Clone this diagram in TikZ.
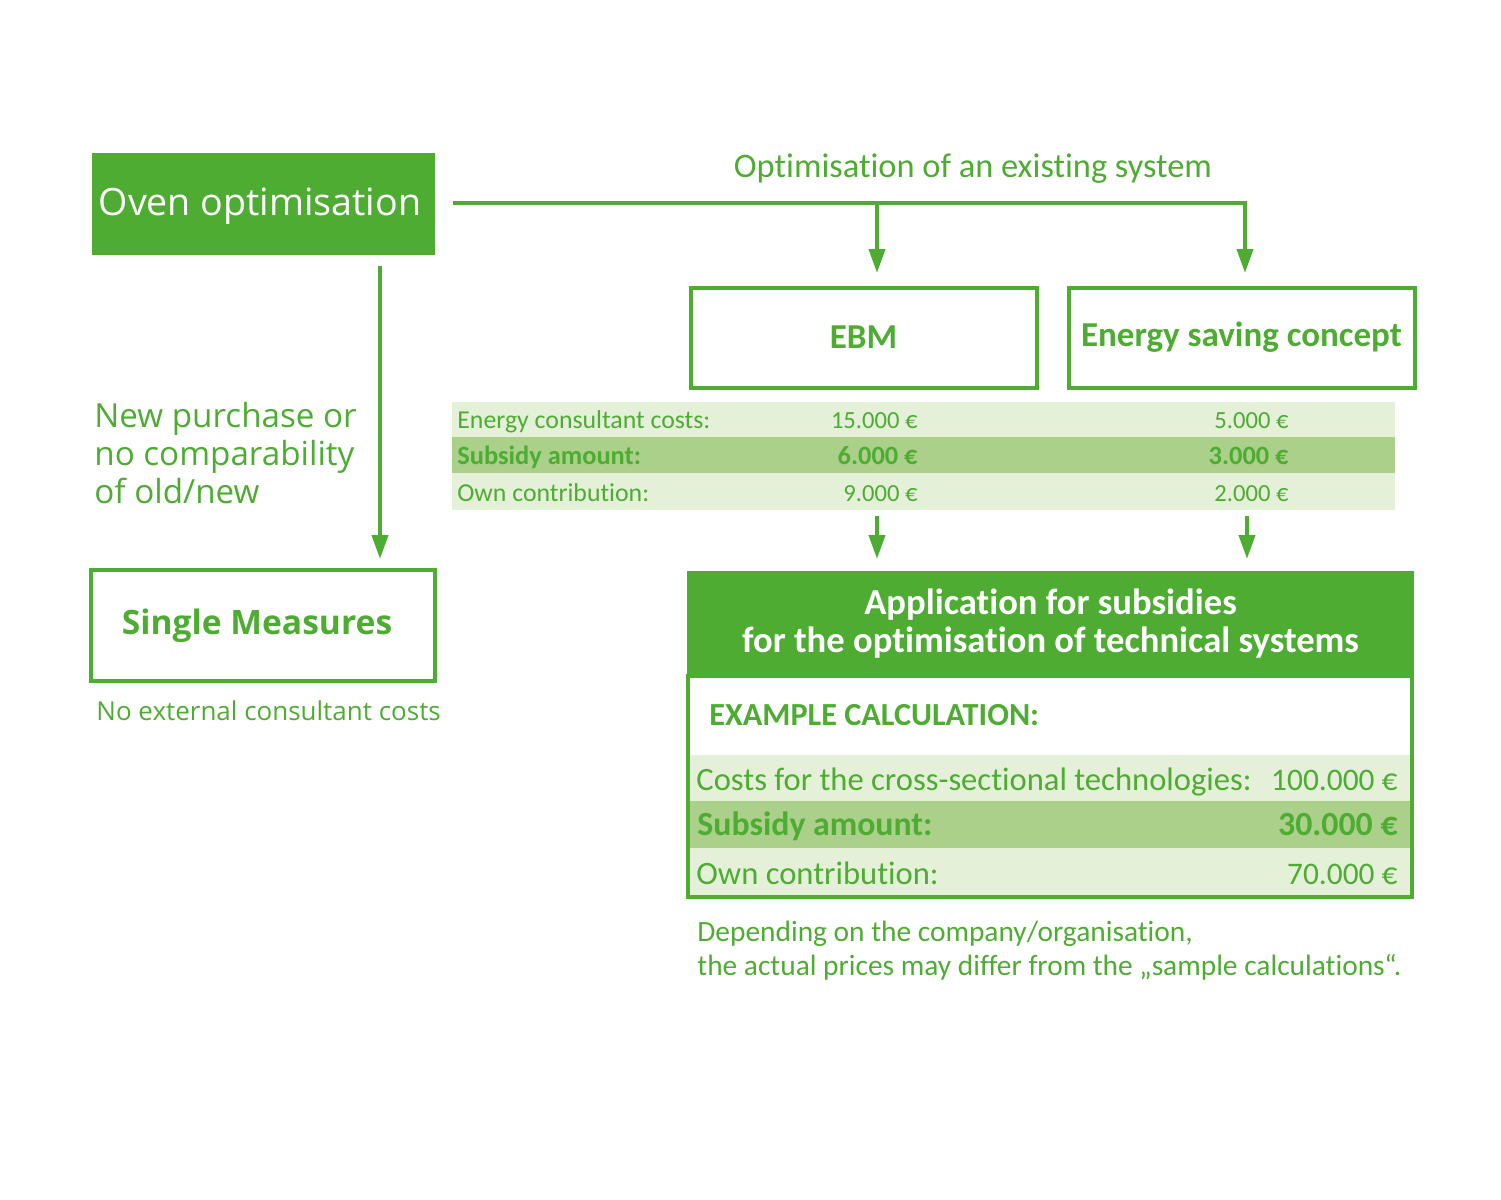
\documentclass[tikz,border=0pt]{standalone}
\usepackage{fontspec}
\setmainfont{Carlito}[Ligatures=NoCommon]
\newfontfamily\opensans{Open Sans}
\usetikzlibrary{arrows.meta}
\definecolor{cus-green}{RGB}{78, 172, 51}
\definecolor{cus-green1}{RGB}{170, 208, 138}
\definecolor{cus-green2}{RGB}{228, 240, 216}

\begin{document}
\begin{tikzpicture}[x=0.5pt,y=-0.5pt,
  >={Triangle[width=8pt,length=12pt]},
  arr/.style={draw=cus-green,line width=2pt,->},
  box/.style={draw=cus-green,line width=2pt,rectangle,inner sep=0pt,
    minimum width=173pt,minimum height=50pt,text=cus-green,font=\fontsize{17.5}{20}\selectfont\bfseries},
  txt/.style={text=cus-green,inner sep=0pt},
  small/.style={txt,font=\fontsize{12.9}{15}\selectfont},
  smallb/.style={txt,font=\fontsize{13.2}{15}\selectfont\bfseries},
  smallv/.style={txt,font=\fontsize{12.3}{15}\selectfont},
  big/.style={txt,font=\fontsize{16.3}{19}\selectfont},
  bigb/.style={txt,font=\fontsize{16.9}{19}\selectfont\bfseries},
  bigv/.style={txt,font=\fontsize{15.7}{19}\selectfont}]
\useasboundingbox (0,0) rectangle (1501,1200);

% top part
\node [fill=cus-green,inner sep=0pt,minimum width=171.5pt,minimum height=51pt] (oven) at (263.5,204) {};
\node [txt,text=white,anchor=base,font=\opensans\fontsize{18.8}{22}\selectfont] (oven-t) at (260,215) {Oven optimisation};
\node [txt,anchor=base,font=\fontsize{17.2}{20}\selectfont] (opt) at (973,177) {Optimisation of an existing system};

\coordinate (t0) at (453,203);
\coordinate (t1) at (877,203);
\coordinate (ebm-tip) at (877,273);
\coordinate (esc-tip) at (1245,273);
\draw [arr] (t0) -| (esc-tip);
\draw [arr] (t1) -- (ebm-tip);

\node [box] (ebm) at (863.5,337.5) {EBM};
\node [box] (esc) at (1241.5,337.5) {Energy saving concept};

% small table
\fill [cus-green2] (452,402) rectangle (1395,437);
\fill [cus-green1] (452,437) rectangle (1395,473);
\fill [cus-green2] (452,473) rectangle (1395,510);
\node [small,anchor=base west] (r1) at (457,428) {Energy consultant costs:};
\node [smallb,anchor=base west] (r2) at (457,464) {Subsidy amount:};
\node [small,anchor=base west] (r3) at (457,501) {Own contribution:};
\node [smallv,anchor=base east] (a1) at (918,428) {15.000 €};
\node [smallb,anchor=base east] (a2) at (918,464) {6.000 €};
\node [smallv,anchor=base east] (a3) at (918,501) {9.000 €};
\node [smallv,anchor=base east] (b1) at (1289,428) {5.000 €};
\node [smallb,anchor=base east] (b2) at (1289,464) {3.000 €};
\node [smallv,anchor=base east] (b3) at (1289,501) {2.000 €};

\coordinate (a0) at (877,516);
\coordinate (a9) at (877,559);
\coordinate (b0) at (1247,516);
\coordinate (b9) at (1247,559);
\draw [arr] (a0) -- (a9);
\draw [arr] (b0) -- (b9);

% application box
\node [fill=cus-green,inner sep=0pt,minimum width=363.5pt,minimum height=52.5pt,
  text=white,align=center,font=\fontsize{18.3}{19}\selectfont\bfseries] (app) at (1050.5,623.5)
  {Application for subsidies\\for the optimisation of technical systems};
\fill [cus-green2] (689,755) rectangle (1412,801);
\fill [cus-green1] (689,801) rectangle (1412,848);
\fill [cus-green2] (689,848) rectangle (1412,897);
\draw [draw=cus-green,line width=2pt] (app.south west) ++(1,0) rectangle (1412,897);
\node [txt,anchor=base west,font=\fontsize{16.1}{19}\selectfont\bfseries] (ex) at (709,725) {EXAMPLE CALCULATION:};
\node [big,anchor=base west] (c1) at (696,790) {Costs for the cross-sectional technologies:};
\node [bigb,anchor=base west] (c2) at (697,835) {Subsidy amount:};
\node [big,anchor=base west] (c3) at (696,884) {Own contribution:};
\node [bigv,anchor=base east] (d1) at (1398,790) {100.000 €};
\node [bigb,anchor=base east] (d2) at (1398,835) {30.000 €};
\node [bigv,anchor=base east] (d3) at (1398,884) {70.000 €};
\node [txt,anchor=base west,align=left,font=\fontsize{14.7}{17}\selectfont] (note) at (697,975)
  {Depending on the company/organisation,\\the actual prices may differ from the „sample calculations“.};

% left branch
\coordinate (s0) at (380,266);
\coordinate (s9) at (380,559);
\draw [arr] (s0) -- (s9);
\node [txt,anchor=base west,align=left,font=\opensans\fontsize{16.6}{19}\selectfont] (np) at (94,503)
  {New purchase or\\no comparability\\of old/new};
\node [box,minimum width=172pt,minimum height=55.5pt] (single) at (263,625.5) {};
\node [txt,anchor=base,font=\opensans\fontsize{16.8}{20}\selectfont\bfseries] (single-t) at (257,634) {Single Measures};
\node [txt,anchor=base west,font=\opensans\fontsize{13}{15}\selectfont] (noext) at (96,720) {No external consultant costs};
\end{tikzpicture}
\end{document}
